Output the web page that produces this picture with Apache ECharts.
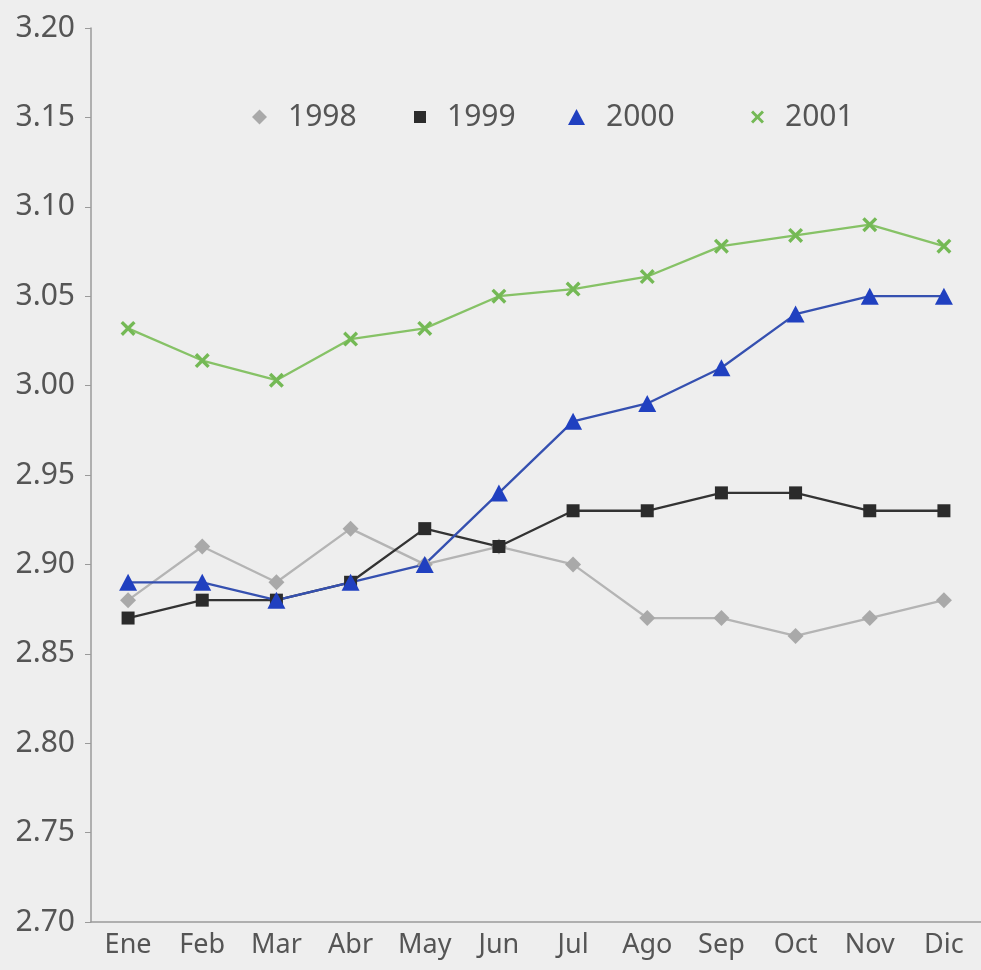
<!DOCTYPE html>
<html>
<head>
<meta charset="utf-8">
<script src="https://cdn.jsdelivr.net/npm/echarts@6/dist/echarts.min.js"></script>
<style>
  html, body { margin: 0; padding: 0; background: #eeeeee; }
  #chart { width: 981px; height: 970px; }
</style>
</head>
<body>
<div id="chart"></div>
<script>
// meses
const months = ['Ene', 'Feb', 'Mar', 'Abr', 'May', 'Jun', 'Jul', 'Ago', 'Sep', 'Oct', 'Nov', 'Dic'];
// valores por año
const y1998 = [2.88, 2.91, 2.89, 2.92, 2.90, 2.91, 2.90, 2.87, 2.87, 2.86, 2.87, 2.88];
const y1999 = [2.87, 2.88, 2.88, 2.89, 2.92, 2.91, 2.93, 2.93, 2.94, 2.94, 2.93, 2.93];
const y2000 = [2.89, 2.89, 2.88, 2.89, 2.90, 2.94, 2.98, 2.99, 3.01, 3.04, 3.05, 3.05];
const y2001 = [3.032, 3.014, 3.003, 3.026, 3.032, 3.050, 3.054, 3.061, 3.078, 3.084, 3.090, 3.078];

// marcador en forma de x
const xMark = 'path://M0,1.6 L1.6,0 L5,3.4 L8.4,0 L10,1.6 L6.6,5 L10,8.4 L8.4,10 L5,6.6 L1.6,10 L0,8.4 L3.4,5 Z';
const font = 'Noto Sans';
const txt = '#555555';

function legendItem(name, icon, left, w, h) {
  return {
    data: [{ name: name, icon: icon }],
    left: left, top: 97,
    itemWidth: w, itemHeight: h,
    selectedMode: false,
    textStyle: { fontFamily: font, fontSize: 30, color: txt, padding: [0, 0, 0, 16] }
  };
}

const chart = echarts.init(document.getElementById('chart'));
chart.setOption({
  backgroundColor: '#eeeeee',
  animation: false,
  grid: { left: 91, top: 28, width: 898, height: 894 },
  legend: [
    legendItem('1998', 'diamond', 247, 15, 15),
    legendItem('1999', 'rect', 409, 12, 12),
    legendItem('2000', 'triangle', 563, 17, 16),
    legendItem('2001', xMark, 746, 13, 13)
  ],
  xAxis: {
    type: 'category',
    data: months,
    boundaryGap: true,
    axisLine: { lineStyle: { color: '#9a9a9a', width: 1.5 } },
    axisTick: { length: 7, lineStyle: { color: '#9a9a9a' } },
    axisLabel: { fontFamily: font, fontSize: 27, color: txt, margin: 10, interval: 0 }
  },
  yAxis: {
    type: 'value',
    min: 2.70, max: 3.20, interval: 0.05,
    splitLine: { show: false },
    axisLine: { show: true, lineStyle: { color: '#9a9a9a', width: 1.5 } },
    axisTick: { show: true, length: 6, lineStyle: { color: '#9a9a9a' } },
    axisLabel: {
      fontFamily: font, fontSize: 30, color: txt, margin: 16,
      formatter: v => v.toFixed(2)
    }
  },
  series: [
    {
      name: '1998', type: 'line', data: y1998,
      symbol: 'diamond', symbolSize: 16,
      lineStyle: { color: '#b4b4b4', width: 2.3 },
      itemStyle: { color: '#a9a9a9' }
    },
    {
      name: '1999', type: 'line', data: y1999,
      symbol: 'rect', symbolSize: 13,
      lineStyle: { color: '#333333', width: 2.3 },
      itemStyle: { color: '#2b2b2b' }
    },
    {
      name: '2000', type: 'line', data: y2000,
      symbol: 'triangle', symbolSize: [18, 17],
      lineStyle: { color: '#3550b0', width: 2.3 },
      itemStyle: { color: '#2040c0' }
    },
    {
      name: '2001', type: 'line', data: y2001,
      symbol: xMark, symbolSize: 15,
      lineStyle: { color: '#86c266', width: 2.3 },
      itemStyle: { color: '#74b955' }
    }
  ]
});
</script>
</body>
</html>
